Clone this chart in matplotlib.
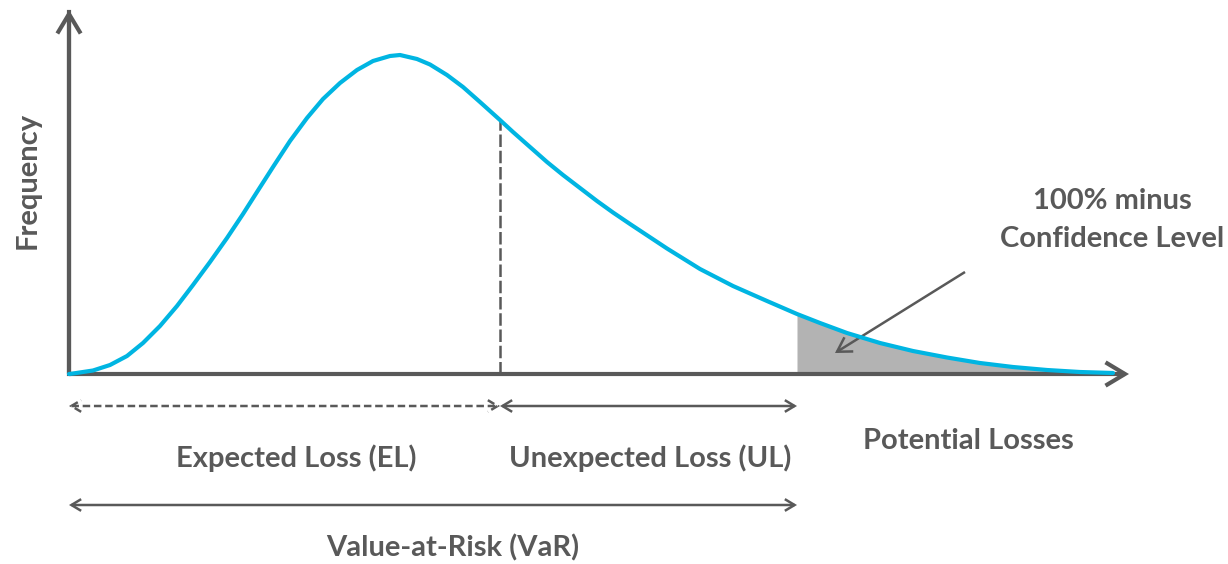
import matplotlib
matplotlib.use("Agg")
import matplotlib.pyplot as plt
from matplotlib.patches import FancyArrowPatch
import numpy as np

# loss distribution (x from the y axis, height above baseline)
loss_x = [0, 4, 24, 41, 58, 74, 91, 108, 124, 141, 158, 174, 188, 204, 221,
          238, 254, 271, 288, 304, 321, 331, 348, 361, 378, 394, 411, 431, 444,
          461, 478, 494, 511, 528, 544, 561, 598, 631, 664, 698, 728, 751, 778,
          811, 844, 878, 911, 944, 978, 1011, 1044]
freq_y = [0, 0.5, 3.5, 9, 18, 31, 48, 68, 89, 112, 136, 160, 182, 207, 233,
          256, 275, 291, 304, 313, 318, 319, 315, 309.5, 299, 287, 272, 254, 242,
          227, 212, 199, 186, 173, 161.5, 150, 125.5, 105, 88, 73, 60, 51, 41,
          31, 23, 16.5, 11, 7, 4, 2, 1]

el_x = 431      # expected loss
var_x = 728     # value-at-risk cut-off
x_end = 1060    # end of x axis
y_top = 364     # top of y axis

ylabel = "Frequency"
xlabel = "Potential Losses"
el_label = "Expected Loss (EL)"
ul_label = "Unexpected Loss (UL)"
var_label = "Value-at-Risk (VaR)"
tail_label = ["100% minus", "Confidence Level"]

grey = "#595959"
blue = "#00B5E2"
plt.rcParams['font.family'] = ['Lato', 'DejaVu Sans']

fig = plt.figure(figsize=(12.28, 5.64), dpi=100)
ax = fig.add_axes([0, 0, 1, 1])
ax.set_xlim(-69, 1159)
ax.set_ylim(-190, 374)
ax.axis("off")

def arrow(p0, p1, style, lw, scale, ls="-", z=3):
    a = FancyArrowPatch(p0, p1, arrowstyle=style, mutation_scale=scale,
                        color=grey, lw=lw, linestyle=ls, shrinkA=0, shrinkB=0,
                        joinstyle="miter", capstyle="butt", zorder=z)
    ax.add_patch(a)

# tail area
lx = np.array(loss_x)
fy = np.array(freq_y)
tail = lx >= var_x
ax.fill_between(lx[tail], 0, fy[tail], color="#B3B3B3", lw=0, zorder=1)

# curve
ax.plot(loss_x, freq_y, color=blue, lw=3, solid_capstyle="round",
        solid_joinstyle="round", zorder=4)

# EL marker
el_h = freq_y[loss_x.index(el_x)]
ax.plot([el_x, el_x], [0, el_h], color=grey, lw=1.8, ls=(0, (5, 1.5)), zorder=2)

# axes
arrow((0, 0), (0, y_top), "->,head_length=1.0,head_width=0.6", 3, 14)
arrow((0, 0), (x_end, 0), "->,head_length=1.0,head_width=0.6", 3, 14)
ax.plot([0, 0], [0, y_top - 2], color=grey, lw=3, solid_capstyle="projecting", zorder=3)

# range arrows
arrow((0, -32), (el_x, -32), "<->,head_length=1.0,head_width=0.6", 1.8, 7, ls=(0, (3, 1.5)))
arrow((el_x, -32), (var_x, -32), "<->,head_length=1.0,head_width=0.6", 1.8, 7)
arrow((0, -131), (var_x, -131), "<->,head_length=1.0,head_width=0.6", 1.8, 7)

# tail pointer
arrow((896, 102), (766, 21), "->,head_length=1.0,head_width=0.6", 1.8, 10)

txt = dict(color=grey, fontweight="bold", fontsize=21, ha="center", va="center")
ax.text(-41, 194, ylabel, rotation=90, **txt)
ax.text(227, -84, el_label, **txt)
ax.text(581, -84, ul_label, **txt)
ax.text(899, -67, xlabel, **txt)
ax.text(384, -174, var_label, **txt)
ax.text(1043, 173, tail_label[0], **txt)
ax.text(1043, 135, tail_label[1], **txt)

fig.savefig("out.png", dpi=100)
